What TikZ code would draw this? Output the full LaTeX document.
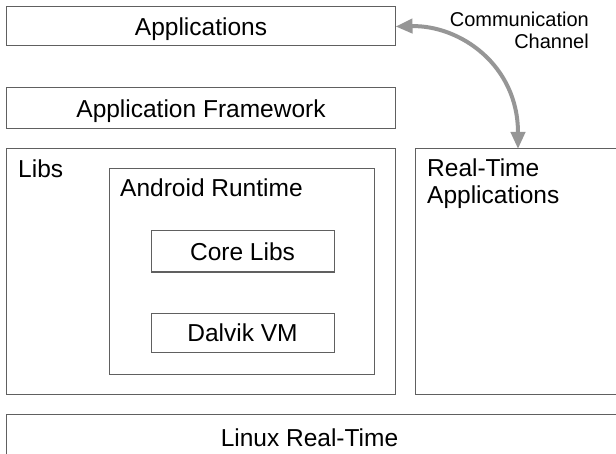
\documentclass[tikz,border=0pt]{standalone}
\usepackage{fontspec}
\setmainfont{Liberation Sans}
\usetikzlibrary{arrows.meta}
\definecolor{boxline}{RGB}{96,96,96}
\definecolor{chanarrow}{RGB}{150,150,150}
\tikzset{
  layerbox/.style={
    draw=boxline,
    line width=1bp,
    inner sep=0pt,
    font=\fontsize{24.5bp}{27bp}\selectfont,
    text height=17.5bp,
    text depth=0pt
  },
  boxlabel/.style={
    inner sep=0pt,
    font=\fontsize{24.5bp}{27bp}\selectfont
  },
  channel/.style={
    draw=chanarrow,
    line width=4bp,
    {Triangle[length=17bp,width=14bp]}-{Triangle[length=17bp,width=14bp]}
  }
}
\begin{document}
\begin{tikzpicture}[x=1bp,y=-1bp]

  % Page frame, matching the reference proportions.
  \useasboundingbox (0,0) rectangle (616,454);
  \clip (0,0) rectangle (616,454);

  % Android side of the stack.
  \node[layerbox,minimum width=388bp,minimum height=39bp] (apps) at (201,26.5)
    {Applications};
  \node[layerbox,minimum width=388bp,minimum height=41bp] (framework) at (201,108.5)
    {Application Framework};
  \node[layerbox,minimum width=388bp,minimum height=245bp] (libs) at (201,271.5) {};
  \node[boxlabel,anchor=base west] (libslabel) at (18,178) {Libs};

  % Android runtime inside the libs layer.
  \node[layerbox,minimum width=265bp,minimum height=205bp] (runtime) at (241.5,271.5) {};
  \node[boxlabel,anchor=base west] (runtimelabel) at (120,197) {Android Runtime};
  \node[layerbox,minimum width=183bp,minimum height=41bp] (corelibs) at (242.5,251.5)
    {Core Libs};
  \node[layerbox,minimum width=183bp,minimum height=39bp] (dalvik) at (242.5,332.5)
    {Dalvik VM};

  % Real-time side, running past the right border.
  \node[layerbox,minimum width=215bp,minimum height=245bp] (rtapps) at (522.5,271.5) {};
  \node[boxlabel,anchor=base west,align=left] (rtlabel) at (427,204)
    {Real-Time\\Applications};

  % Kernel layer at the bottom.
  \node[layerbox,minimum width=623bp,minimum height=56bp] (linux) at (318.5,442) {};
  \node[boxlabel,anchor=base] (linuxlabel) at (309.5,446) {Linux Real-Time};

  % Communication channel between both worlds.
  \coordinate (rttop) at (518,149);
  \draw[channel] (apps.east) .. controls (460,25) and (518,65) .. (rttop);
  \node[inner sep=0pt,anchor=base east,align=right,
        font=\fontsize{20bp}{22bp}\selectfont] (chanlabel) at (589,49)
    {Communication\\Channel};

\end{tikzpicture}
\end{document}
